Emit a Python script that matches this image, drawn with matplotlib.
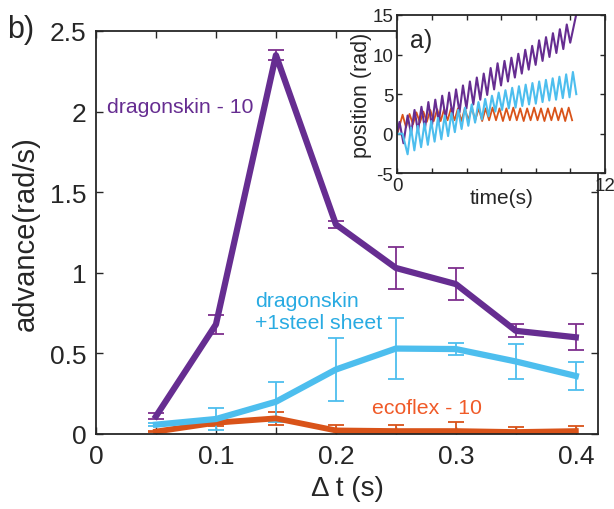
import numpy as np
import matplotlib
matplotlib.use("Agg")
import matplotlib.pyplot as plt

plt.rcParams['font.family'] = ['Liberation Sans', 'DejaVu Sans']

# ---------------- main panel data ----------------
dt = [0.05, 0.10, 0.15, 0.20, 0.25, 0.30, 0.35, 0.40]

dragon_y = [0.11, 0.68, 2.35, 1.30, 1.03, 0.93, 0.64, 0.60]
dragon_err = [0.02, 0.06, 0.03, 0.02, 0.13, 0.10, 0.04, 0.08]

steel_y = [0.058, 0.093, 0.20, 0.40, 0.53, 0.527, 0.45, 0.36]
steel_err = [0.01, 0.07, 0.125, 0.195, 0.19, 0.04, 0.11, 0.085]

eco_y = [0.015, 0.07, 0.097, 0.022, 0.018, 0.018, 0.012, 0.018]
eco_err = [0.005, 0.02, 0.04, 0.035, 0.035, 0.055, 0.03, 0.03]

xticks_main = [0, 0.05, 0.10, 0.15, 0.20, 0.25, 0.30, 0.35, 0.40]
xticklabels_main = ['0', '', '0.1', '', '0.2', '', '0.3', '', '0.4']
yticks_main = [0, 0.5, 1, 1.5, 2, 2.5]
yticklabels_main = ['0', '0.5', '1', '1.5', '2', '2.5']

# ---------------- inset data (local extrema) ----------------
purple_start_t = [0.0, 0.12, 0.35]
purple_start_v = [0.3, 1.5, -1.2]
purple_ext_v = [2.3, 0.0, 3.0, 0.3, 3.4, 0.6, 4.0, 0.9, 4.3, 1.4, 4.8, 1.9,
                5.2, 2.3, 5.6, 2.7, 6.1, 3.2, 6.6, 3.7, 7.1, 4.3, 7.6, 4.9,
                8.3, 5.6, 8.9, 6.1, 9.2, 6.6, 9.6, 7.1, 10.1, 7.6, 10.6, 8.1,
                11.1, 8.7, 11.8, 9.2, 12.2, 9.7, 12.7, 10.2, 13.2, 10.7, 13.8, 11.5]
purple_end_t = [10.33]
purple_end_v = [15.0]

cyan_start_t = [0.0, 0.3]
cyan_start_v = [0.0, 0.0]
cyan_ext_v = [-2.6, 0.8, -2.1, 1.0, -1.7, 1.3, -1.4, 1.6, -1.0, 2.0, -0.7, 2.3,
              -0.3, 2.6, 0.2, 3.0, 0.6, 3.3, 1.0, 3.7, 1.4, 4.0, 1.8, 4.4,
              2.2, 4.8, 2.8, 5.2, 3.0, 5.5, 3.2, 5.8, 3.3, 6.0, 3.5, 6.2,
              3.7, 6.4, 3.8, 6.6, 4.0, 6.8, 4.2, 7.0, 4.3, 7.2, 4.5, 7.5,
              4.6, 7.8, 5.0]

orange_start_t = [0.0]
orange_start_v = [0.0]
orange_ext_v = [2.4, 0.8, 2.5, 1.2, 2.7, 1.4, 2.8, 1.5, 3.0, 1.6, 3.1, 1.6,
                3.1, 1.7, 3.2, 1.7, 3.2, 1.6, 3.2, 1.7, 3.3, 1.7, 3.2, 1.6,
                3.2, 1.7, 3.3, 1.7, 3.2, 1.6, 3.2, 1.7, 3.3, 1.7, 3.2, 1.6,
                3.2, 1.7, 3.3, 1.7, 3.2, 1.6, 3.2, 1.7, 3.3, 1.7, 3.2, 1.6,
                3.3, 1.7]

# sampling times of the extrema (uniform half-periods)
purple_ext_t = list(0.59 + 0.2 * np.arange(len(purple_ext_v)))
cyan_ext_t = list(0.59 + 0.195 * np.arange(len(cyan_ext_v)))
orange_ext_t = list(0.3 + 0.2 * np.arange(len(orange_ext_v)))

purple_t = purple_start_t + purple_ext_t + purple_end_t
purple_v = purple_start_v + purple_ext_v + purple_end_v
cyan_t = cyan_start_t + cyan_ext_t
cyan_v = cyan_start_v + cyan_ext_v
orange_t = orange_start_t + orange_ext_t
orange_v = orange_start_v + orange_ext_v

# ---------------- colours ----------------
c_purple = '#662D91'
c_purple_err = '#7E2F8E'
c_cyan = '#4DBEEE'
c_orange = '#D95319'
c_axis = '#262626'

fig = plt.figure(figsize=(6.14, 5.10), dpi=100)
ax = fig.add_axes([96 / 614, 1 - 435 / 510, (598 - 96) / 614, (435 - 32) / 510])

ekw = dict(elinewidth=1.3, capsize=6, capthick=1.3)
ax.errorbar(dt, eco_y, yerr=eco_err, color=c_orange, lw=4.2, ecolor=c_orange, **ekw)
ax.errorbar(dt, dragon_y, yerr=dragon_err, color=c_purple, lw=4.5, ecolor=c_purple_err, **ekw)
ax.errorbar(dt, steel_y, yerr=steel_err, color=c_cyan, lw=4.5, ecolor=c_cyan, **ekw)

ax.set_xlim(0, 0.4185)
ax.set_ylim(0, 2.5)
ax.set_xticks(xticks_main)
ax.set_xticklabels(xticklabels_main)
ax.set_yticks(yticks_main)
ax.set_yticklabels(yticklabels_main)
ax.tick_params(direction='in', top=True, right=True, length=5, width=1.0,
               labelsize=19, colors=c_axis, pad=7)
for s in ax.spines.values():
    s.set_linewidth(1.3)
    s.set_color(c_axis)
ax.set_xlabel('Δ t (s)', fontsize=20, color=c_axis, labelpad=5)
ax.set_ylabel('advance(rad/s)', fontsize=21, color=c_axis, labelpad=7)

ax.text(0.009, 2.03, 'dragonskin - 10', color=c_purple, fontsize=15.3,
        ha='left', va='center')
ax.text(0.1325, 0.76, 'dragonskin\n+1steel sheet', color='#29ABE2', fontsize=15.3,
        ha='left', va='center', linespacing=1.15)
ax.text(0.23, 0.167, 'ecoflex - 10', color='#F05A28', fontsize=15.3,
        ha='left', va='center')

fig.text(0.012, 1 - 30 / 510, 'b)', fontsize=22, color=c_axis, ha='left', va='center')

# ---------------- inset ----------------
ins = fig.add_axes([397.4 / 614, 1 - 174.3 / 510, 207.6 / 614, (174.3 - 16) / 510])
ins.plot(orange_t, orange_v, color=c_orange, lw=1.3)
ins.plot(purple_t, purple_v, color=c_purple, lw=1.5)
ins.plot(cyan_t, cyan_v, color=c_cyan, lw=1.5)
ins.set_xlim(0, 12)
ins.set_ylim(-5, 15)
ins.set_xticks([0, 2, 4, 6, 8, 10, 12])
ins.set_xticklabels(['0', '', '', '', '', '', '12'])
ins.set_yticks([-5, 0, 5, 10, 15])
ins.set_yticklabels(['-5', '0', '5', '10', '15'])
ins.tick_params(direction='in', top=True, right=True, length=3.5, width=1.0,
                labelsize=13.5, colors=c_axis, pad=3)
for s in ins.spines.values():
    s.set_linewidth(1.3)
    s.set_color(c_axis)
ins.set_xlabel('time(s)', fontsize=15, color=c_axis, labelpad=-5)
ins.set_ylabel('position (rad)', fontsize=15.5, color=c_axis, labelpad=0)
ins.text(0.7, 11.8, 'a)', fontsize=18, color=c_axis, ha='left', va='center')

fig.savefig('out.png', dpi=100)
